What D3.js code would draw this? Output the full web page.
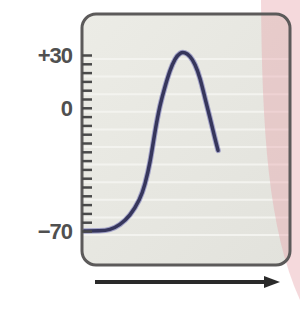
<!DOCTYPE html>
<html>
<head>
<meta charset="utf-8">
<script src="https://cdn.jsdelivr.net/npm/d3@7"></script>
<style>
  body { margin: 0; background: #fff; }
  svg { display: block; }
</style>
</head>
<body>
<div id="chart"></div>
<script>
// action potential trace (time in arbitrary units, mV)
var timeVals = [0, 0.78, 1.27, 1.76, 2.25, 2.75, 2.99, 3.24, 3.48, 3.73, 3.97, 4.22, 4.46, 4.71, 4.95, 5.2, 5.44, 5.69, 5.93, 6.18, 6.42, 6.57];
var voltVals = [-70, -70, -69.5, -66.6, -61.6, -52.1, -43.7, -31.5, -13, 2.1, 12.1, 21.6, 28, 31.5, 31.5, 29.5, 25, 17.2, 5.4, -5.8, -17.5, -24.2];
var tickLabels = ['+30', '0', '\u221270'];
var labelVals = [30, 0, -70];
var minorTicks = d3.range(-70, 31, 5);
var gridVals = d3.range(-70, 31, 10);

var width = 300, height = 318;
var box = { left: 82, top: 14, right: 290, bottom: 265 };

var svg = d3.select('#chart').append('svg')
  .attr('width', width)
  .attr('height', height);

var x = d3.scaleLinear().domain([0, 10]).range([84, 288]);
var y = d3.scaleLinear().domain([-70, 30]).range([231, 55]);

var defs = svg.append('defs');
var grad = defs.append('linearGradient').attr('id', 'boxfill')
  .attr('x1', 0).attr('y1', 0).attr('x2', 1).attr('y2', 1);
grad.append('stop').attr('offset', 0).attr('stop-color', '#ececE6');
grad.append('stop').attr('offset', 1).attr('stop-color', '#e2e2dc');

defs.append('clipPath').attr('id', 'boxclip')
  .append('rect')
  .attr('x', box.left).attr('y', box.top)
  .attr('width', box.right - box.left).attr('height', box.bottom - box.top)
  .attr('rx', 14);

// box background
svg.append('rect')
  .attr('x', box.left).attr('y', box.top)
  .attr('width', box.right - box.left).attr('height', box.bottom - box.top)
  .attr('rx', 14)
  .attr('fill', 'url(#boxfill)');

// faint grid bands
svg.append('g').attr('clip-path', 'url(#boxclip)')
  .selectAll('line').data(gridVals).enter().append('line')
  .attr('x1', box.left).attr('x2', box.right)
  .attr('y1', function (d) { return y(d) + 4; })
  .attr('y2', function (d) { return y(d) + 4; })
  .attr('stroke', '#f3f3ef')
  .attr('stroke-width', 2);

// pink band on the right
svg.append('path')
  .attr('d', 'M261,0 C262,130 268,230 300,300 L300,0 Z')
  .attr('fill', 'rgba(232,165,172,0.42)');

// voltage trace
var line = d3.line()
  .x(function (d, i) { return x(timeVals[i]); })
  .y(function (d) { return y(d); })
  .curve(d3.curveBasis);

svg.append('path')
  .datum(voltVals)
  .attr('d', line)
  .attr('fill', 'none')
  .attr('stroke', '#6060b0')
  .attr('stroke-width', 5.5)
  .attr('stroke-linecap', 'round')
  .attr('opacity', 0.5);

svg.append('path')
  .datum(voltVals)
  .attr('d', line)
  .attr('fill', 'none')
  .attr('stroke', '#36365c')
  .attr('stroke-width', 3.5)
  .attr('stroke-linecap', 'round');

// box border
svg.append('rect')
  .attr('x', box.left).attr('y', box.top)
  .attr('width', box.right - box.left).attr('height', box.bottom - box.top)
  .attr('rx', 14)
  .attr('fill', 'none')
  .attr('stroke', '#5c5a5a')
  .attr('stroke-width', 3);

// y axis ticks on the left border
var yAxis = d3.axisRight(y).tickValues(minorTicks).tickSize(10).tickFormat('');
var gAxis = svg.append('g').attr('transform', 'translate(' + box.left + ',0)').call(yAxis);
gAxis.select('.domain').remove();
gAxis.selectAll('.tick line').attr('stroke', '#4a4a4a').attr('stroke-width', 2.5);

// tick labels
svg.append('g').selectAll('text').data(labelVals).enter().append('text')
  .attr('x', 72)
  .attr('y', function (d) { return y(d); })
  .attr('dy', '0.36em')
  .attr('text-anchor', 'end')
  .attr('font-family', 'Liberation Sans, Arial, sans-serif')
  .attr('font-weight', 'bold')
  .attr('font-size', 22)
  .attr('letter-spacing', -1)
  .attr('fill', '#505050')
  .text(function (d, i) { return tickLabels[i]; });

// time arrow
var arrowY = 282;
svg.append('line')
  .attr('x1', 95).attr('x2', 268)
  .attr('y1', arrowY).attr('y2', arrowY)
  .attr('stroke', '#2a2a2a')
  .attr('stroke-width', 4);
svg.append('path')
  .attr('d', 'M280,' + arrowY + ' L264,' + (arrowY - 6) + ' L264,' + (arrowY + 6) + ' Z')
  .attr('fill', '#2a2a2a');
</script>
</body>
</html>
